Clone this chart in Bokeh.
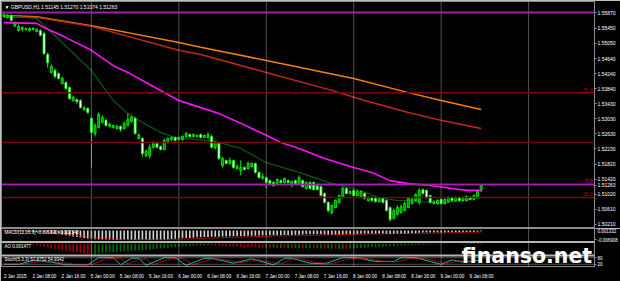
import numpy as np
from bokeh.plotting import figure
from bokeh.layouts import column
from bokeh.models import Range1d, FixedTicker, Label, Span
from bokeh.embed import file_html
from bokeh.resources import INLINE

# ---------------- data ----------------
bar_open = [1.5576, 1.5574, 1.5579, 1.5552, 1.5539, 1.5542, 1.5542, 1.5539, 1.5542, 1.5536,
            1.5539, 1.5531, 1.5475, 1.5427, 1.5432, 1.5424, 1.5397, 1.5400, 1.5387, 1.5352,
            1.5355, 1.5352, 1.5328, 1.5331, 1.5304, 1.5264, 1.5280, 1.5293, 1.5299, 1.5283,
            1.5280, 1.5277, 1.5283, 1.5277, 1.5285, 1.5296, 1.5304, 1.5251, 1.5251, 1.5205,
            1.5205, 1.5227, 1.5237, 1.5229, 1.5221, 1.5240, 1.5248, 1.5253, 1.5248, 1.5248,
            1.5256, 1.5261, 1.5256, 1.5256, 1.5261, 1.5253, 1.5253, 1.5256, 1.5227, 1.5237,
            1.5178, 1.5192, 1.5184, 1.5192, 1.5170, 1.5165, 1.5173, 1.5170, 1.5176, 1.5184,
            1.5160, 1.5144, 1.5146, 1.5138, 1.5133, 1.5130, 1.5138, 1.5133, 1.5138, 1.5130,
            1.5138, 1.5130, 1.5138, 1.5117, 1.5133, 1.5133, 1.5125, 1.5122, 1.5104, 1.5080,
            1.5053, 1.5066, 1.5080, 1.5093, 1.5117, 1.5104, 1.5112, 1.5098, 1.5096, 1.5104,
            1.5085, 1.5093, 1.5093, 1.5082, 1.5090, 1.5085, 1.5066, 1.5037, 1.5048, 1.5053,
            1.5058, 1.5066, 1.5077, 1.5085, 1.5080, 1.5114, 1.5112, 1.5098, 1.5077, 1.5077,
            1.5088, 1.5077, 1.5082, 1.5093, 1.5085, 1.5093, 1.5085, 1.5085, 1.5093, 1.5088,
            1.5093, 1.51145]
bar_high = [1.5584, 1.5582, 1.5582, 1.5563, 1.5555, 1.5550, 1.5547, 1.5547, 1.5547, 1.5544,
            1.5542, 1.5536, 1.5480, 1.5448, 1.5437, 1.5427, 1.5416, 1.5403, 1.5389, 1.5365,
            1.5357, 1.5355, 1.5336, 1.5333, 1.5309, 1.5291, 1.5320, 1.5312, 1.5304, 1.5293,
            1.5288, 1.5288, 1.5285, 1.5296, 1.5317, 1.5312, 1.5309, 1.5264, 1.5253, 1.5221,
            1.5235, 1.5243, 1.5240, 1.5232, 1.5251, 1.5253, 1.5256, 1.5256, 1.5256, 1.5259,
            1.5269, 1.5264, 1.5264, 1.5261, 1.5264, 1.5261, 1.5267, 1.5261, 1.5243, 1.5240,
            1.5202, 1.5194, 1.5200, 1.5194, 1.5181, 1.5192, 1.5176, 1.5189, 1.5186, 1.5186,
            1.5162, 1.5157, 1.5149, 1.5141, 1.5136, 1.5144, 1.5141, 1.5146, 1.5141, 1.5138,
            1.5141, 1.5152, 1.5141, 1.5136, 1.5136, 1.5136, 1.5128, 1.5125, 1.5106, 1.5082,
            1.5074, 1.5088, 1.5101, 1.5122, 1.5120, 1.5112, 1.5114, 1.5112, 1.5112, 1.5106,
            1.5096, 1.5096, 1.5096, 1.5093, 1.5093, 1.5088, 1.5069, 1.5064, 1.5072, 1.5074,
            1.5082, 1.5093, 1.5093, 1.5104, 1.5117, 1.5117, 1.5114, 1.5101, 1.5085, 1.5088,
            1.5090, 1.5090, 1.5096, 1.5096, 1.5096, 1.5096, 1.5096, 1.5098, 1.5096, 1.5101,
            1.5114, 1.51270]
bar_low = [1.5574, 1.5571, 1.5563, 1.5547, 1.5536, 1.5536, 1.5539, 1.5536, 1.5539, 1.5534,
           1.5523, 1.5475, 1.5440, 1.5424, 1.5411, 1.5408, 1.5395, 1.5381, 1.5355, 1.5349,
           1.5344, 1.5331, 1.5325, 1.5317, 1.5173, 1.5256, 1.5277, 1.5291, 1.5283, 1.5280,
           1.5277, 1.5275, 1.5269, 1.5275, 1.5283, 1.5293, 1.5261, 1.5248, 1.5202, 1.5200,
           1.5197, 1.5224, 1.5224, 1.5219, 1.5219, 1.5237, 1.5245, 1.5243, 1.5245, 1.5245,
           1.5253, 1.5253, 1.5253, 1.5253, 1.5251, 1.5251, 1.5251, 1.5224, 1.5221, 1.5194,
           1.5173, 1.5181, 1.5181, 1.5170, 1.5168, 1.5152, 1.5165, 1.5168, 1.5173, 1.5157,
           1.5144, 1.5141, 1.5117, 1.5128, 1.5122, 1.5128, 1.5130, 1.5130, 1.5130, 1.5120,
           1.5128, 1.5128, 1.5120, 1.5114, 1.5114, 1.5112, 1.5112, 1.5096, 1.5077, 1.5053,
           1.5048, 1.5064, 1.5077, 1.5090, 1.5101, 1.5101, 1.5096, 1.5096, 1.5093, 1.5088,
           1.5082, 1.5082, 1.5080, 1.5080, 1.5077, 1.5056, 1.5029, 1.5034, 1.5045, 1.5050,
           1.5056, 1.5064, 1.5074, 1.5082, 1.5074, 1.5101, 1.5090, 1.5077, 1.5074, 1.5074,
           1.5074, 1.5074, 1.5080, 1.5082, 1.5082, 1.5082, 1.5082, 1.5082, 1.5085, 1.5085,
           1.5090, 1.51074]
bar_close = [1.5582, 1.5579, 1.5566, 1.5560, 1.5550, 1.5547, 1.5544, 1.5544, 1.5544, 1.5542,
             1.5526, 1.5477, 1.5453, 1.5443, 1.5416, 1.5411, 1.5411, 1.5384, 1.5357, 1.5360,
             1.5349, 1.5333, 1.5333, 1.5320, 1.5267, 1.5285, 1.5315, 1.5307, 1.5285, 1.5288,
             1.5285, 1.5283, 1.5275, 1.5291, 1.5301, 1.5307, 1.5264, 1.5261, 1.5210, 1.5216,
             1.5227, 1.5237, 1.5227, 1.5221, 1.5245, 1.5251, 1.5253, 1.5245, 1.5253, 1.5256,
             1.5264, 1.5256, 1.5261, 1.5259, 1.5253, 1.5259, 1.5261, 1.5227, 1.5240, 1.5197,
             1.5197, 1.5184, 1.5192, 1.5173, 1.5176, 1.5173, 1.5168, 1.5184, 1.5184, 1.5160,
             1.5146, 1.5149, 1.5133, 1.5130, 1.5125, 1.5141, 1.5133, 1.5144, 1.5133, 1.5136,
             1.5130, 1.5146, 1.5122, 1.5133, 1.5117, 1.5114, 1.5114, 1.5098, 1.5080, 1.5058,
             1.5072, 1.5085, 1.5098, 1.5117, 1.5104, 1.5109, 1.5098, 1.5109, 1.5109, 1.5090,
             1.5093, 1.5085, 1.5082, 1.5090, 1.5080, 1.5058, 1.5034, 1.5058, 1.5066, 1.5069,
             1.5077, 1.5090, 1.5088, 1.5101, 1.5112, 1.5104, 1.5093, 1.5080, 1.5082, 1.5085,
             1.5077, 1.5088, 1.5093, 1.5085, 1.5093, 1.5085, 1.5093, 1.5096, 1.5088, 1.5098,
             1.5112, 1.51263]

# moving averages (bar index, value)
ma_pink_bar = [0, 9, 11, 17, 24, 30, 34, 39, 48, 54, 59, 65, 72, 76, 81, 88, 96, 101, 106, 111, 117, 123, 127, 131]
ma_pink = [1.5560, 1.5558, 1.5547, 1.5520, 1.5486, 1.5445, 1.5427, 1.5400, 1.5352, 1.5333, 1.5317, 1.5291,
           1.5259, 1.5240, 1.5224, 1.5197, 1.5173, 1.5160, 1.5138, 1.5130, 1.5125, 1.5117, 1.5112, 1.5112]
ma_orange_bar = [0, 9, 24, 48, 54, 72, 96, 111, 120, 131]
ma_orange = [1.5579, 1.5576, 1.5552, 1.5507, 1.5494, 1.5459, 1.5411, 1.5373, 1.5352, 1.5328]
ma_red_bar = [0, 9, 24, 48, 54, 72, 90, 99, 111, 120, 131]
ma_red = [1.5576, 1.5574, 1.5550, 1.5486, 1.5475, 1.5427, 1.5379, 1.5352, 1.5320, 1.5299, 1.5277]
ma_green_bar = [0, 9, 24, 30, 34, 38, 43, 47, 56, 59, 65, 72, 81, 90, 96, 103, 108, 111, 120, 129, 131]
ma_green = [1.5579, 1.5571, 1.5432, 1.5352, 1.5317, 1.5293, 1.5267, 1.5253, 1.5245, 1.5240, 1.5224,
            1.5186, 1.5160, 1.5130, 1.5117, 1.5093, 1.5085, 1.5085, 1.5077, 1.5090, 1.5093]

# horizontal levels
level_purple = [1.5587, 1.5128]
level_red = [1.5373, 1.5240, 1.5093]
level_text_price = [1.5373, 1.5128, 1.5093]
level_text = ["76.4", "0.0", "38.2"]

price_ticks = [1.55870, 1.55450, 1.55050, 1.54640, 1.54240, 1.53840, 1.53430, 1.53030, 1.52630,
               1.52230, 1.51820, 1.51420, 1.51263, 1.51020, 1.50610, 1.50210]

macd_main = [-0.0003, -0.0004, -0.0005, -0.0006, -0.0007, -0.0008, -0.0009, -0.0010, -0.0011, -0.0011,
             -0.0012, -0.0013, -0.0016, -0.0020, -0.0024, -0.0028, -0.0032, -0.0036, -0.0040, -0.0044,
             -0.0048, -0.0052, -0.0055, -0.0059, -0.0062, -0.0064, -0.0066, -0.0067, -0.0067, -0.0068,
             -0.0068, -0.0068, -0.0068, -0.0069, -0.0069, -0.0069, -0.0069, -0.0069, -0.0069, -0.0069,
             -0.0069, -0.0068, -0.0068, -0.0068, -0.0067, -0.0065, -0.0063, -0.0061, -0.0059, -0.0058,
             -0.0056, -0.0055, -0.0053, -0.0051, -0.0050, -0.0049, -0.0048, -0.0047, -0.0046, -0.0046,
             -0.0045, -0.0044, -0.0043, -0.0043, -0.0042, -0.0041, -0.0041, -0.0040, -0.0039, -0.0039,
             -0.0038, -0.0037, -0.0037, -0.0036, -0.0036, -0.0035, -0.0035, -0.0034, -0.0034, -0.0034,
             -0.0032, -0.0031, -0.0030, -0.0029, -0.0028, -0.0028, -0.0028, -0.0029, -0.0030, -0.0031,
             -0.0032, -0.0032, -0.0031, -0.0030, -0.0029, -0.0028, -0.0027, -0.0026, -0.0025, -0.0025,
             -0.0025, -0.0024, -0.0024, -0.0024, -0.0024, -0.0025, -0.0027, -0.0027, -0.0026, -0.0025,
             -0.0024, -0.0022, -0.0021, -0.0019, -0.0017, -0.0016, -0.0016, -0.0016, -0.0016, -0.0015,
             -0.0015, -0.0015, -0.0014, -0.0014, -0.0013, -0.0013, -0.0012, -0.0012, -0.0011, -0.0011,
             -0.0009, -0.0006]
macd_signal_bar = [0, 11, 18, 26, 35, 45, 57, 70, 84, 100, 115, 131]
macd_signal = [-0.0002, -0.0010, -0.0030, -0.0058, -0.0068, -0.0068, -0.0056, -0.0044, -0.0036, -0.0027, -0.0022, -0.0012]

ao_values = [-0.0002, -0.0003, -0.0004, -0.0005, -0.0006, -0.0007, -0.0008, -0.0009, -0.0012, -0.0016,
             -0.0020, -0.0026, -0.0032, -0.0038, -0.0044, -0.0050, -0.0056, -0.0061, -0.0066, -0.0071,
             -0.0075, -0.0079, -0.0082, -0.0085, -0.0088, -0.0086, -0.0083, -0.0080, -0.0077, -0.0074,
             -0.0071, -0.0068, -0.0065, -0.0063, -0.0060, -0.0058, -0.0056, -0.0054, -0.0052, -0.0050,
             -0.0048, -0.0045, -0.0042, -0.0039, -0.0036, -0.0033, -0.0030, -0.0027, -0.0024, -0.0022,
             -0.0020, -0.0018, -0.0016, -0.0015, -0.0014, -0.0013, -0.0012, -0.0013, -0.0015, -0.0017,
             -0.0019, -0.0021, -0.0023, -0.0025, -0.0026, -0.0027, -0.0028, -0.0029, -0.0030, -0.0031,
             -0.0032, -0.0033, -0.0033, -0.0034, -0.0034, -0.0035, -0.0035, -0.0036, -0.0036, -0.0037,
             -0.0037, -0.0037, -0.0038, -0.0038, -0.0038, -0.0039, -0.0039, -0.0039, -0.0040, -0.0040,
             -0.0040, -0.0041, -0.0041, -0.0041, -0.0042, -0.0042, -0.0040, -0.0038, -0.0036, -0.0034,
             -0.0032, -0.0030, -0.0028, -0.0026, -0.0024, -0.0022, -0.0021, -0.0019, -0.0017, -0.0015,
             -0.0013, -0.0012, -0.0011, -0.0010, -0.0009, -0.0008, -0.0007, -0.0006, -0.0005, -0.0004,
             -0.0003, -0.0002, -0.0001, 0.0001, 0.0002, 0.0004, 0.0006, 0.0008, 0.0010, 0.0012,
             0.0013, 0.0015]

stoch_main_bar = [0, 4, 8, 13, 17, 23, 26, 30, 32, 35, 37, 39, 44, 47, 50, 55, 57, 63, 68, 74, 77, 79,
                  84, 88, 93, 97, 102, 107, 109, 113, 120, 123, 126, 131]
stoch_main = [20, 20, 55, 40, 15, 15, 80, 80, 15, 75, 75, 10, 80, 80, 10, 75, 75, 30, 70, 15, 75, 75,
              30, 25, 80, 80, 45, 45, 80, 80, 20, 60, 40, 58]
stoch_sig_bar = [0, 5, 10, 15, 19, 24, 28, 32, 34, 37, 39, 41, 46, 49, 52, 57, 59, 65, 70, 76, 79, 81,
                 86, 90, 95, 99, 104, 109, 111, 115, 122, 125, 128, 131]
stoch_sig = [22, 22, 45, 42, 20, 17, 70, 75, 25, 65, 70, 18, 72, 75, 18, 68, 70, 35, 62, 22, 68, 70,
             35, 28, 72, 75, 48, 47, 72, 75, 28, 52, 45, 55]
stoch_levels = [80, 20]

day_breaks = [24, 48, 72, 96, 120, 144]
time_bars = [0, 8, 16, 24, 32, 40, 48, 56, 64, 72, 80, 88, 96, 104, 112, 120, 128]
time_labels = ["2 Jan 2015", "2 Jan 08:00", "2 Jan 16:00", "5 Jan 00:00", "5 Jan 08:00", "5 Jan 16:00",
               "6 Jan 00:00", "6 Jan 08:00", "6 Jan 16:00", "7 Jan 00:00", "7 Jan 08:00", "7 Jan 16:00",
               "8 Jan 00:00", "8 Jan 08:00", "8 Jan 16:00", "9 Jan 00:00", "9 Jan 08:00"]

title_text = "\u25bc GBPUSD,H1  1.51145 1.51270 1.51074 1.51263"
macd_text = "MACD(12,26,9) -0.001332 -0.002140"
ao_text = "AO 0.001477"
stoch_text = "Stoch(5,3,3) 57.8752 54.9342"
macd_scale_values = [0.001332, -0.006908]
watermark = "finanso.net"

# ---------------- drawing ----------------
FONT = "Liberation Sans"
FRAME = "#8c8c8c"
SEP = "#b4b4b4"
GRID = "#a0a0a0"
BRIGHT = "#00FF00"
X0, X1 = -0.68, 162.1
RB = 22


def style_right_axis(ax, size="5px", tick=2):
    ax.axis_line_color = FRAME
    ax.major_tick_line_color = FRAME
    ax.minor_tick_line_color = None
    ax.major_tick_out = tick
    ax.major_tick_in = 0
    ax.major_label_standoff = 1
    ax.major_label_text_font = FONT
    ax.major_label_text_font_size = size
    ax.major_label_text_color = "white"


def add_day_lines(f):
    for d in day_breaks:
        f.add_layout(Span(location=d, dimension="height", line_color=GRID,
                          line_dash="1 1", line_width=1))


idx = np.arange(len(bar_close))
o = np.array(bar_open); c = np.array(bar_close)
h = np.array(bar_high); l = np.array(bar_low)
up = c >= o

# ---------- main price panel ----------
p = figure(width=620, height=228, x_range=Range1d(X0, X1), y_range=Range1d(1.50102, 1.56164),
           output_backend="svg", toolbar_location=None, title=None,
           x_axis_location=None, y_axis_location="right",
           min_border_left=1, min_border_right=RB, min_border_top=1, min_border_bottom=0,
           background_fill_color="black", border_fill_color="black",
           outline_line_color=FRAME, outline_line_width=1)
p.grid.visible = False
style_right_axis(p.yaxis[0])
p.yaxis[0].ticker = FixedTicker(ticks=price_ticks)
p.yaxis[0].major_label_overrides = {t: f"{t:.5f}" for t in price_ticks}
add_day_lines(p)

for lv in level_red:
    p.add_layout(Span(location=lv, dimension="width", line_color="#7a0a0a", line_width=1.5))
for lv in level_purple:
    p.add_layout(Span(location=lv, dimension="width", line_color="#a020a8", line_width=2))

p.line(ma_orange_bar, ma_orange, line_color="#f08010", line_width=1.5)
p.line(ma_red_bar, ma_red, line_color="#c02818", line_width=1.5)
p.line(ma_green_bar, ma_green, line_color="#0a5a0a", line_width=1.2)

p.segment(x0=idx, y0=l, x1=idx, y1=h, line_color=BRIGHT, line_width=1)
p.vbar(x=idx[up], width=0.55, top=c[up], bottom=o[up], fill_color="#008800", line_color=BRIGHT, line_width=0.8)
p.vbar(x=idx[~up], width=0.55, top=o[~up], bottom=c[~up], fill_color="white", line_color=BRIGHT, line_width=0.8)

p.line(ma_pink_bar, ma_pink, line_color="#ff10ff", line_width=1.6)

for lp, lt in zip(level_text_price, level_text):
    col = "#c020c0" if lt == "0.0" else "#a01010"
    p.add_layout(Label(x=X1, y=lp, x_offset=-2, y_offset=1, text=lt, text_align="right",
                       text_baseline="bottom", text_font=FONT, text_font_size="5px", text_color=col))

p.add_layout(Label(x=X0, y=1.56164, x_offset=3, y_offset=-2, text=title_text, text_baseline="top",
                   text_font=FONT, text_font_size="5px", text_color="white"))

# ---------- indicator panels (one canvas, three bands) ----------
SUB_H = 45          # frame rows
AX_H = 8            # time axis rows
bands = {            # name: (top row, bottom row, value at top row, value at bottom row)
    "macd": (0, 16, 0.0014, -0.0085),
    "ao": (16, 32, 0.0016, -0.0100),
    "stoch": (32, 45, 100.0, 0.0),
}
extra = {}
for name, (pt, pb, vt, vb) in bands.items():
    per = (vt - vb) / (pb - pt)
    extra[name] = Range1d(start=vt - (SUB_H - pt) * per, end=vt + pt * per)


def row_of(name, v):
    pt, pb, vt, vb = bands[name]
    per = (vt - vb) / (pb - pt)
    return SUB_H - (pt + (vt - v) / per)


s = figure(width=620, height=SUB_H + AX_H, x_range=p.x_range, y_range=Range1d(0, SUB_H),
           output_backend="svg", toolbar_location=None, title=None,
           x_axis_location="below", y_axis_location="right",
           min_border_left=1, min_border_right=RB, min_border_top=0, min_border_bottom=AX_H,
           background_fill_color="black", border_fill_color="black",
           outline_line_color=FRAME, outline_line_width=1)
s.extra_y_ranges = extra
s.grid.visible = False
style_right_axis(s.yaxis[0], "4.5px", tick=2)
scale_rows = [round(row_of("macd", v), 3) for v in macd_scale_values] + \
             [round(row_of("stoch", v), 3) for v in stoch_levels]
scale_text = [f"{v:.6f}" for v in macd_scale_values] + [str(v) for v in stoch_levels]
s.yaxis[0].ticker = FixedTicker(ticks=scale_rows)
s.yaxis[0].major_label_overrides = {r: t for r, t in zip(scale_rows, scale_text)}
add_day_lines(s)

# separators between the sub-windows
for name in ["ao", "stoch"]:
    s.add_layout(Span(location=SUB_H - bands[name][0], dimension="width", line_color=SEP, line_width=2))

# MACD
s.vbar(x=idx, width=0.45, top=0, bottom=macd_main, fill_color="#d0d0d0", line_color=None,
       y_range_name="macd")
s.line(macd_signal_bar, macd_signal, line_color="#e01010", line_width=1, line_dash="2 1",
       y_range_name="macd")

# AO
ao = np.array(ao_values)
ao_up = np.concatenate([[True], ao[1:] >= ao[:-1]])
s.vbar(x=idx[ao_up], width=0.45, top=0, bottom=ao[ao_up], fill_color="#006c00", line_color=None,
       y_range_name="ao")
s.vbar(x=idx[~ao_up], width=0.45, top=0, bottom=ao[~ao_up], fill_color="#a00000", line_color=None,
       y_range_name="ao")

# Stochastic
for lv in stoch_levels:
    s.add_layout(Span(location=lv, dimension="width", line_color=GRID, line_dash="1 1", line_width=1,
                      y_range_name="stoch"))
s.line(stoch_main_bar, stoch_main, line_color="#20b2aa", line_width=1, y_range_name="stoch")
s.line(stoch_sig_bar, stoch_sig, line_color="#e01010", line_width=1, line_dash="2 1", y_range_name="stoch")

for name, txt in [("macd", macd_text), ("ao", ao_text), ("stoch", stoch_text)]:
    s.add_layout(Label(x=X0, y=SUB_H - bands[name][0], x_offset=3, y_offset=-1.5, text=txt,
                       text_baseline="top", text_font=FONT, text_font_size="4.5px", text_color="white"))

s.add_layout(Label(x=125.6, y=SUB_H - 32.5, text=watermark, text_baseline="alphabetic",
                   text_font="DejaVu Sans", text_font_style="bold", text_font_size="20.5px",
                   text_color="white"))

tick_pos = [b + 3.1 for b in time_bars]
xa = s.xaxis[0]
xa.ticker = FixedTicker(ticks=tick_pos)
xa.major_label_overrides = {t: lab for t, lab in zip(tick_pos, time_labels)}
xa.axis_line_color = None
xa.major_tick_line_color = None
xa.minor_tick_line_color = None
xa.major_label_standoff = 1
xa.major_label_text_font = FONT
xa.major_label_text_font_size = "4.6px"
xa.major_label_text_color = "white"

layout = column(p, s, spacing=0)
open("out.html", "w").write(file_html(layout, INLINE))
